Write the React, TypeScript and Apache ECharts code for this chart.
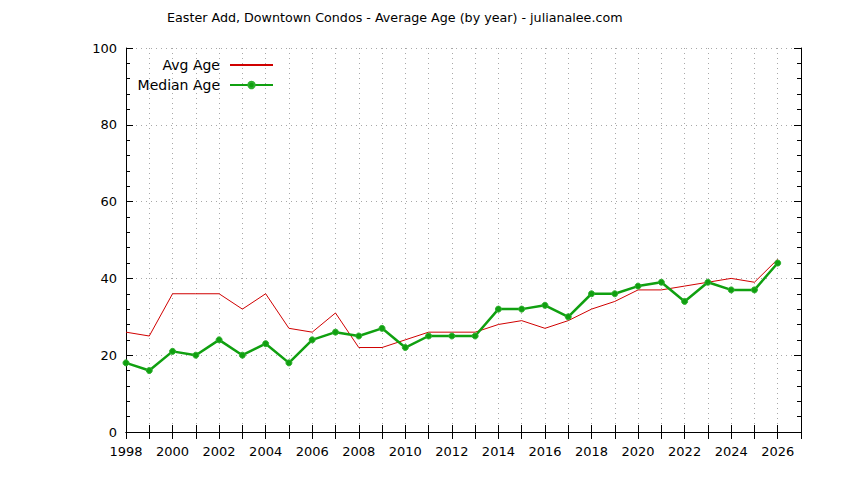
import React, { useEffect, useRef } from 'react'
import * as echarts from 'echarts'

const years = [1998, 1999, 2000, 2001, 2002, 2003, 2004, 2005, 2006, 2007, 2008, 2009, 2010, 2011, 2012,
  2013, 2014, 2015, 2016, 2017, 2018, 2019, 2020, 2021, 2022, 2023, 2024, 2025, 2026]
const avgAge = [26, 25, 36, 36, 36, 32, 36, 27, 26, 31, 22, 22, 24, 26, 26,
  26, 28, 29, 27, 29, 32, 34, 37, 37, 38, 39, 40, 39, 45]
const medianAge = [18, 16, 21, 20, 24, 20, 23, 18, 24, 26, 25, 27, 22, 25, 25,
  25, 32, 32, 33, 30, 36, 36, 38, 39, 34, 39, 37, 37, 44]

const FONT = 'DejaVu Sans'
const GRID_LINE = { show: true, lineStyle: { color: '#a8a8a8', type: [1, 4] as number[], width: 1 } }

export default function App(): JSX.Element {
  const ref = useRef<HTMLDivElement>(null)

  useEffect(() => {
    if (!ref.current) return
    const chart = echarts.init(ref.current, undefined, { renderer: 'svg' })

    const xBase = {
      type: 'value' as const,
      min: 1998,
      max: 2027,
      interval: 1,
      axisLine: { lineStyle: { color: '#000', width: 1 } },
      axisTick: { inside: true, length: 7, lineStyle: { color: '#000' } },
    }
    const yBase = {
      type: 'value' as const,
      min: 0,
      max: 100,
      interval: 20,
      axisLine: { show: true, lineStyle: { color: '#000', width: 1 } },
      axisTick: { show: true, inside: true, length: 7, lineStyle: { color: '#000' } },
      minorTick: { show: true, splitNumber: 5, length: 4, lineStyle: { color: '#000' } },
    }
    const legendText = { fontFamily: FONT, fontSize: 14, color: '#000', padding: [0, 5, 0, 0] }

    chart.setOption({
      animation: false,
      backgroundColor: '#fff',
      textStyle: { fontFamily: FONT },
      title: {
        text: 'Easter Add, Downtown Condos - Average Age (by year) - julianalee.com',
        left: 167,
        top: 11,
        padding: 0,
        textStyle: { fontFamily: FONT, fontSize: 12.7, fontWeight: 'normal', color: '#000' },
      },
      legend: [
        {
          data: [{ name: 'Avg Age', itemStyle: { opacity: 0 } }],
          right: 570,
          top: 58,
          padding: 0,
          align: 'right',
          itemWidth: 43,
          itemHeight: 8,
          textStyle: legendText,
        },
        {
          data: ['Median Age'],
          right: 570,
          top: 78,
          padding: 0,
          align: 'right',
          itemWidth: 43,
          itemHeight: 8,
          textStyle: legendText,
        },
      ],
      grid: { left: 126, right: 43, top: 48, bottom: 48, containLabel: false },
      xAxis: [
        {
          ...xBase,
          position: 'bottom',
          splitLine: GRID_LINE,
          axisLabel: {
            margin: 13,
            color: '#000',
            fontFamily: FONT,
            fontSize: 13,
            showMaxLabel: false,
            formatter: (v: number) => (v % 2 === 0 ? String(v) : ''),
          },
        },
        {
          ...xBase,
          position: 'top',
          splitLine: { show: false },
          axisLabel: { show: false },
        },
      ],
      yAxis: [
        {
          ...yBase,
          position: 'left',
          splitLine: GRID_LINE,
          axisLabel: { margin: 9, color: '#000', fontFamily: FONT, fontSize: 13 },
        },
        {
          ...yBase,
          position: 'right',
          splitLine: { show: false },
          axisLabel: { show: false },
        },
      ],
      series: [
        {
          name: 'Avg Age',
          type: 'line',
          data: years.map((y, i) => [y, avgAge[i]]),
          symbol: 'none',
          lineStyle: { color: '#d00000', width: 1 },
          itemStyle: { color: '#d00000' },
          z: 2,
        },
        {
          name: 'Median Age',
          type: 'line',
          data: years.map((y, i) => [y, medianAge[i]]),
          symbol: 'circle',
          symbolSize: 6,
          lineStyle: { color: '#10a010', width: 2.5 },
          itemStyle: { color: '#10a010', borderColor: '#30b030', borderWidth: 1 },
          z: 3,
        },
      ],
    })

    return () => {
      chart.dispose()
    }
  }, [])

  return <div ref={ref} style={{ position: 'fixed', left: 0, top: 0, width: 844, height: 480 }} />
}
